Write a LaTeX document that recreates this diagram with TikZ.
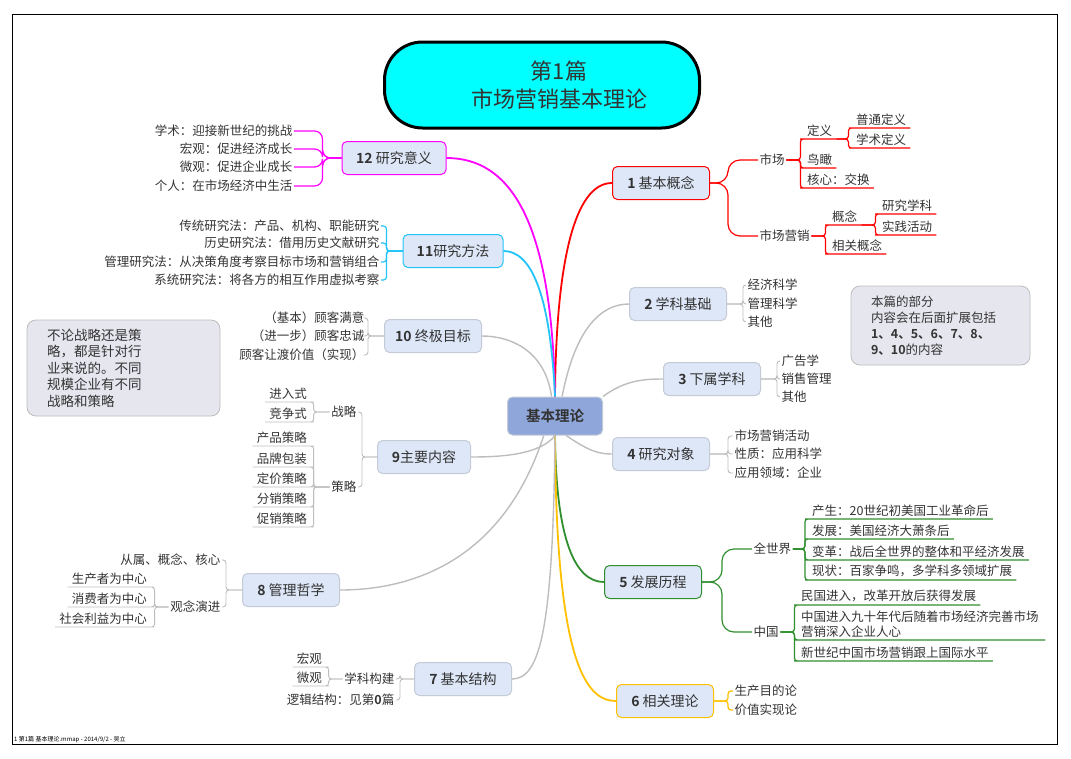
\documentclass[tikz,border=0pt]{standalone}
\usepackage{fontspec}
\setmainfont{Noto Sans CJK SC}[BoldFont={Noto Sans CJK SC Bold}]
\usepackage{tikz}
\usetikzlibrary{positioning}
\definecolor{mmText}{HTML}{333333}
\definecolor{mmRed}{HTML}{FF0000}
\definecolor{mmMagenta}{HTML}{FF00FF}
\definecolor{mmCyan}{HTML}{22C4F8}
\definecolor{mmGreen}{HTML}{2F8F2F}
\definecolor{mmGold}{HTML}{FFC000}
\definecolor{mmGray}{HTML}{BDBDBD}
\definecolor{mmBox}{HTML}{C4CAD6}
\definecolor{mmFill}{HTML}{DDE7F8}
\definecolor{mmRoot}{HTML}{8FA6DB}
\definecolor{mmNote}{HTML}{E6E6EF}
\definecolor{mmTitle}{HTML}{00FFFF}
\tikzset{
  topic/.style={
    rectangle,
    rounded corners=5pt,
    draw=mmBox,
    fill=mmFill,
    line width=1pt,
    minimum width=97pt,
    minimum height=33pt,
    text=mmText,
    font=\fontsize{14}{16}\selectfont
  },
  rootnode/.style={topic, fill=mmRoot, draw=mmBox, minimum width=95pt, minimum height=38pt,
    font=\fontsize{14.5}{16}\selectfont\bfseries},
  titlebox/.style={rectangle, rounded corners=38pt, draw=black, fill=mmTitle, line width=3pt,
    minimum width=315pt, minimum height=86pt, align=center, text=mmText,
    font=\fontsize{22}{28}\selectfont},
  note/.style={rectangle, rounded corners=9pt, draw=mmGray, fill=mmNote, line width=0.8pt,
    align=left, text=mmText},
  leaf/.style={inner sep=1.5pt, text=mmText, font=\fontsize{12.5}{14.5}\selectfont},
  uleaf/.style={leaf, inner xsep=4pt, inner ysep=2.5pt},
  mainline/.style={line width=1.8pt},
  grayline/.style={line width=1.4pt, draw=mmGray},
  gbr/.style={draw=mmGray, line width=0.9pt, rounded corners=3pt},
  cbr/.style={line width=1.2pt, rounded corners=3pt},
  footer/.style={inner sep=0pt, text=black, font=\fontsize{6}{7}\selectfont}
}

\begin{document}
\begin{tikzpicture}[x=1pt,y=-1pt]
  \useasboundingbox (0,0) rectangle (1071,758);
  \draw[line width=0.8pt] (12,14) rectangle (1057,744);
  \node[footer, anchor=south west] (foot) at (14,743) {1 第1篇 基本理论.mmap - 2014/9/2 - 吴立};

  % title and centre
  \node[titlebox] (title) at (542,85) {\hspace*{34pt}第1篇\\\hspace*{34pt}市场营销基本理论};
  \node[rootnode] (root) at (555,416) {基本理论};

  % main topics
  \node[topic, draw=mmRed] (b1) at (661,183) {\textbf{1} 基本概念};
  \node[topic] (b2) at (678,304) {\textbf{2} 学科基础};
  \node[topic] (b3) at (712,379) {\textbf{3} 下属学科};
  \node[topic] (b4) at (661,454) {\textbf{4} 研究对象};
  \node[topic, draw=mmGreen] (b5) at (653,582) {\textbf{5} 发展历程};
  \node[topic, draw=mmGold] (b6) at (665,701) {\textbf{6} 相关理论};
  \node[topic] (b7) at (463,679) {\textbf{7} 基本结构};
  \node[topic] (b8) at (291,590) {\textbf{8} 管理哲学};
  \node[topic, minimum width=93pt] (b9) at (424,457) {\textbf{9}主要内容};
  \node[topic] (b10) at (433,336) {\textbf{10} 终极目标};
  \node[topic, draw=mmCyan, minimum width=100pt] (b11) at (453,251) {\textbf{11}研究方法};
  \node[topic, draw=mmMagenta, minimum width=104pt] (b12) at (394,158) {\textbf{12} 研究意义};

  % lines from the centre
  \draw[mainline, mmRed] (root.north) .. controls (556,260) and (575,183) .. (b1.west);
  \draw[mainline, mmMagenta] (root.north) .. controls (552,220) and (510,158) .. (b12.east);
  \draw[mainline, mmCyan] (root.north) .. controls (550,290) and (530,251) .. (b11.east);
  \draw[grayline] (root.100) .. controls (545,350) and (510,336) .. (b10.east);
  \draw[grayline] (root.70) .. controls (575,330) and (600,304) .. (b2.west);
  \draw[grayline] (root.north east) .. controls (625,380) and (645,379) .. (b3.west);
  \draw[grayline] (root.-60) .. controls (590,452) and (600,454) .. (b4.west);
  \draw[mainline, mmGreen] (root.south) .. controls (556,540) and (575,582) .. (b5.west);
  \draw[mainline, mmGold] (root.south) .. controls (556,660) and (585,701) .. (b6.west);
  \draw[grayline] (root.south) .. controls (553,630) and (540,679) .. (b7.east);
  \draw[grayline] (root.-120) .. controls (500,570) and (400,590) .. (b8.east);
  \draw[grayline] (root.south) .. controls (540,455) and (500,457) .. (b9.east);

  % 1 基本概念
  \node[leaf, anchor=west] (s1) at (758,160) {市场};
  \node[leaf, anchor=west] (s2) at (758,236) {市场营销};
  \draw[cbr, mmRed, rounded corners=12pt] (b1.east) -- ++(18,0) |- (s1.west);
  \draw[cbr, mmRed, rounded corners=12pt] (b1.east) -- ++(18,0) |- (s2.west);
  \node[uleaf, anchor=south west] (s1a) at (803,139) {定义};
  \node[uleaf, anchor=south west] (s1b) at (803,168) {鸟瞰};
  \node[uleaf, anchor=south west] (s1c) at (803,188) {核心：交换};
  \foreach \c in {s1a,s1b,s1c}
    \draw[cbr, mmRed] (s1.east) -- ++(14,0) |- (\c.south west) -- (\c.south east);
  \node[uleaf, anchor=south west] (s1a1) at (852,128) {普通定义};
  \node[uleaf, anchor=south west] (s1a2) at (852,148) {学术定义};
  \foreach \c in {s1a1,s1a2}
    \draw[cbr, mmRed] (s1a.south east) -- ++(12,0) |- (\c.south west) -- (\c.south east);
  \node[uleaf, anchor=south west] (s2a) at (828,225) {概念};
  \node[uleaf, anchor=south west] (s2b) at (828,254) {相关概念};
  \foreach \c in {s2a,s2b}
    \draw[cbr, mmRed] (s2.east) -- ++(14,0) |- (\c.south west) -- (\c.south east);
  \node[uleaf, anchor=south west] (s2a1) at (878,214) {研究学科};
  \node[uleaf, anchor=south west] (s2a2) at (878,235) {实践活动};
  \foreach \c in {s2a1,s2a2}
    \draw[cbr, mmRed] (s2a.south east) -- ++(14,0) |- (\c.south west) -- (\c.south east);

  % 2 学科基础
  \node[leaf, anchor=west] (x1) at (746,285) {经济科学};
  \node[leaf, anchor=west] (x2) at (746,304) {管理科学};
  \node[leaf, anchor=west] (x3) at (746,322) {其他};
  \foreach \c in {x1,x2,x3}
    \draw[gbr] (b2.east) -- ++(16,0) |- (\c.west);

  % 3 下属学科
  \node[leaf, anchor=west] (z1) at (780,361) {广告学};
  \node[leaf, anchor=west] (z2) at (780,379) {销售管理};
  \node[leaf, anchor=west] (z3) at (780,397) {其他};
  \foreach \c in {z1,z2,z3}
    \draw[gbr] (b3.east) -- ++(16,0) |- (\c.west);

  % 4 研究对象
  \node[leaf, anchor=west] (o1) at (733,436) {市场营销活动};
  \node[leaf, anchor=west] (o2) at (733,454) {性质：应用科学};
  \node[leaf, anchor=west] (o3) at (733,473) {应用领域：企业};
  \foreach \c in {o1,o2,o3}
    \draw[gbr] (b4.east) -- ++(18,0) |- (\c.west);

  % note right
  \node[note, text width=139pt, inner xsep=20pt, minimum height=79pt,
        font=\fontsize{12.5}{16}\selectfont] (n1) at (940.5,325.5)
    {本篇的部分\\内容会在后面扩展包括\\\textbf{1、4、5、6、7、8、}\\\textbf{9、10}的内容};

  % 5 发展历程
  \node[leaf, anchor=west] (h1) at (752,549) {全世界};
  \node[leaf, anchor=west] (h2) at (752,632) {中国};
  \draw[cbr, mmGreen, rounded corners=12pt] (b5.east) -- ++(20,0) |- (h1.west);
  \draw[cbr, mmGreen, rounded corners=12pt] (b5.east) -- ++(20,0) |- (h2.west);
  \node[uleaf, anchor=south west] (h1a) at (808,519) {产生：20世纪初美国工业革命后};
  \node[uleaf, anchor=south west] (h1b) at (808,539) {发展：美国经济大萧条后};
  \node[uleaf, anchor=south west] (h1c) at (808,560) {变革：战后全世界的整体和平经济发展};
  \node[uleaf, anchor=south west] (h1d) at (808,580) {现状：百家争鸣，多学科多领域扩展};
  \foreach \c in {h1a,h1b,h1c,h1d}
    \draw[cbr, mmGreen] (h1.east) -- ++(12,0) |- (\c.south west) -- (\c.south east);
  \node[uleaf, anchor=south west] (h2a) at (797,605) {民国进入，改革开放后获得发展};
  \node[uleaf, anchor=south west, align=left, text width=240pt] (h2b) at (797,640)
    {中国进入九十年代后随着市场经济完善市场\\营销深入企业人心};
  \node[uleaf, anchor=south west] (h2c) at (797,661) {新世纪中国市场营销跟上国际水平};
  \foreach \c in {h2a,h2b,h2c}
    \draw[cbr, mmGreen] (h2.east) -- ++(14,0) |- (\c.south west) -- (\c.south east);

  % 6 相关理论
  \node[leaf, anchor=west] (r1) at (733,691) {生产目的论};
  \node[leaf, anchor=west] (r2) at (733,710) {价值实现论};
  \foreach \c in {r1,r2}
    \draw[cbr, mmGold] (b6.east) -- ++(14,0) |- (\c.west);

  % 12 研究意义
  \node[leaf, anchor=east] (y1) at (294,131) {学术：迎接新世纪的挑战};
  \node[leaf, anchor=east] (y2) at (294,149) {宏观：促进经济成长};
  \node[leaf, anchor=east] (y3) at (294,167) {微观：促进企业成长};
  \node[leaf, anchor=east] (y4) at (294,186) {个人：在市场经济中生活};
  \foreach \c in {y1,y2,y3,y4}
    \draw[cbr, mmMagenta, rounded corners=8pt] (b12.west) -- ++(-19,0) |- (\c.east);

  % 11 研究方法
  \node[leaf, anchor=east] (f1) at (381,226) {传统研究法：产品、机构、职能研究};
  \node[leaf, anchor=east] (f2) at (381,243) {历史研究法：借用历史文献研究};
  \node[leaf, anchor=east] (f3) at (381,262) {管理研究法：从决策角度考察目标市场和营销组合};
  \node[leaf, anchor=east] (f4) at (381,280) {系统研究法：将各方的相互作用虚拟考察};
  \foreach \c in {f1,f2,f3,f4}
    \draw[cbr, mmCyan] (b11.west) -- ++(-16,0) |- (\c.east);

  % 10 终极目标
  \node[leaf, anchor=east] (e1) at (366,318) {（基本）顾客满意};
  \node[leaf, anchor=east] (e2) at (366,336) {（进一步）顾客忠诚};
  \node[leaf, anchor=east] (e3) at (366,355) {顾客让渡价值（实现）};
  \foreach \c in {e1,e2,e3}
    \draw[gbr] (b10.west) -- ++(-16,0) |- (\c.east);

  % note left
  \node[note, text width=153pt, inner xsep=20pt, minimum height=96pt,
        font=\fontsize{13.5}{16.5}\selectfont] (n2) at (123.5,368)
    {不论战略还是策\\略，都是针对行\\业来说的。不同\\规模企业有不同\\战略和策略};

  % 9 主要内容
  \node[leaf, anchor=east] (c1) at (358,412) {战略};
  \node[leaf, anchor=east] (c2) at (358,487) {策略};
  \foreach \c in {c1,c2}
    \draw[gbr] (b9.west) -- ++(-15,0) |- (\c.east);
  \node[uleaf, anchor=south east] (c1a) at (311,402) {进入式};
  \node[uleaf, anchor=south east] (c1b) at (311,422) {竞争式};
  \foreach \c in {c1a,c1b}
    \draw[gbr] (c1.west) -- ++(-16,0) |- (\c.south east) -- (\c.south west);
  \node[uleaf, anchor=south east] (c2a) at (311,446) {产品策略};
  \node[uleaf, anchor=south east] (c2b) at (311,467) {品牌包装};
  \node[uleaf, anchor=south east] (c2c) at (311,487) {定价策略};
  \node[uleaf, anchor=south east] (c2d) at (311,507) {分销策略};
  \node[uleaf, anchor=south east] (c2e) at (311,527) {促销策略};
  \foreach \c in {c2a,c2b,c2c,c2d,c2e}
    \draw[gbr] (c2.west) -- ++(-16,0) |- (\c.south east) -- (\c.south west);

  % 8 管理哲学
  \node[leaf, anchor=east] (g1) at (222,560) {从属、概念、核心};
  \node[leaf, anchor=east] (g2) at (222,607) {观念演进};
  \foreach \c in {g1,g2}
    \draw[gbr] (b8.west) -- ++(-16,0) |- (\c.east);
  \node[uleaf, anchor=south east] (g2a) at (151,587) {生产者为中心};
  \node[uleaf, anchor=south east] (g2b) at (151,607) {消费者为中心};
  \node[uleaf, anchor=south east] (g2c) at (151,627) {社会利益为中心};
  \foreach \c in {g2a,g2b,g2c}
    \draw[gbr] (g2.west) -- ++(-14,0) |- (\c.south east) -- (\c.south west);

  % 7 基本结构
  \node[leaf, anchor=east] (j1) at (396,679) {学科构建};
  \node[leaf, anchor=east] (j2) at (396,700) {逻辑结构：见第\textbf{0}篇};
  \foreach \c in {j1,j2}
    \draw[gbr] (b7.west) -- ++(-14,0) |- (\c.east);
  \node[uleaf, anchor=south east] (j1a) at (326,667) {宏观};
  \node[uleaf, anchor=south east] (j1b) at (326,686) {微观};
  \foreach \c in {j1a,j1b}
    \draw[gbr] (j1.west) -- ++(-14,0) |- (\c.south east) -- (\c.south west);
\end{tikzpicture}
\end{document}
